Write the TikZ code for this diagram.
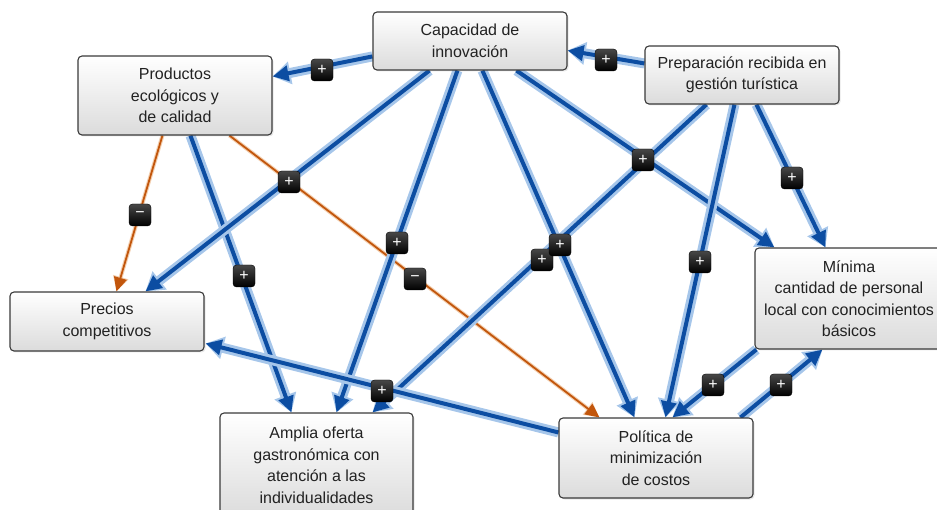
\documentclass[tikz,border=0pt]{standalone}
\usepackage{fontspec}
\setmainfont{Liberation Sans}
\usetikzlibrary{arrows.meta,calc,shadows}
\definecolor{core}{HTML}{0C4DA2}
\definecolor{halo}{HTML}{A6C6EA}
\definecolor{orng}{HTML}{C2560C}
\definecolor{ohalo}{HTML}{F3CFB0}
\definecolor{boxline}{HTML}{3A3A3A}
\definecolor{txt}{HTML}{222222}
\pgfdeclarelayer{bg}
\pgfsetlayers{bg,main}
\begin{document}
\begin{tikzpicture}[x=1pt,y=-1pt,
  concept/.style={draw=boxline, line width=1.1pt, rounded corners=4pt, top color=white, bottom color=black!14, minimum width=194pt, inner sep=0pt, align=center, text=txt, font=\fontsize{16}{21.5}\selectfont, drop shadow={opacity=0.18, shadow xshift=1.5pt, shadow yshift=-1.5pt}},
  posedge/.style={draw=core, line width=4pt, -{Triangle[length=16pt,width=15pt]}, preaction={draw=halo, line width=10pt, -{Triangle[length=18pt,width=22pt]}}},
  negedge/.style={draw=orng, line width=1.8pt, -{Triangle[length=14pt,width=13pt]}, preaction={draw=ohalo, line width=4pt, -{Triangle[length=15pt,width=15pt]}}},
  sign/.style={rounded corners=3.5pt, top color=black!72, bottom color=black, draw=black, minimum size=22pt, inner sep=0pt, text=white, font=\fontsize{16}{16}\selectfont}
]
\useasboundingbox (0,0) rectangle (937,510);

% concepts
\node[concept, minimum height=58pt] (cap) at (470,41) {Capacidad de\\innovación};
\node[concept, minimum height=79pt] (prod) at (175,95.5) {Productos\\ecológicos y\\de calidad};
\node[concept, minimum height=58pt] (prep) at (742,75) {Preparación recibida en\\gestión turística};
\node[concept, minimum height=59pt] (prec) at (107,321.5) {Precios\\competitivos};
\node[concept, minimum height=101pt, minimum width=188pt] (min) at (849,298.5) {Mínima\\cantidad de personal\\local con conocimientos\\básicos};
\node[concept, minimum height=105pt, minimum width=193pt] (amp) at (316.5,465.5) {Amplia oferta\\gastronómica con\\atención a las\\individualidades};
\node[concept, minimum height=80pt] (pol) at (656,458) {Política de\\minimización\\de costos};

% connectors
\begin{pgfonlayer}{bg}
\draw[posedge] ($(cap.north west)+(0,45)$) -- ($(prod.north east)+(0,21)$);
\draw[posedge] ($(prep.north west)+(0,18)$) -- ($(cap.north east)+(0,39)$);
\draw[negedge] ($(prod.south west)+(85,0)$) -- ($(prec.north west)+(107,0)$);
\draw[posedge] ($(prod.south west)+(113,0)$) -- ($(amp.north west)+(72,0)$);
\draw[negedge] ($(prod.south west)+(152,0)$) -- ($(pol.north west)+(41,0)$);
\draw[posedge] ($(cap.south west)+(57,0)$) -- ($(prec.north west)+(136,0)$);
\draw[posedge] ($(cap.south west)+(85,0)$) -- ($(amp.north west)+(117,0)$);
\draw[posedge] ($(cap.south west)+(110,0)$) -- ($(pol.north west)+(76,0)$);
\draw[posedge] ($(cap.south west)+(144,0)$) -- ($(min.north west)+(20,0)$);
\draw[posedge] ($(prep.south west)+(62,0)$) -- ($(amp.north west)+(153,0)$);
\draw[posedge] ($(prep.south west)+(90,0)$) -- ($(pol.north west)+(107,0)$);
\draw[posedge] ($(prep.south west)+(112,0)$) -- ($(min.north west)+(71,0)$);
\draw[posedge] ($(min.south west)+(2,0)$) -- ($(pol.north west)+(114,0)$);
\draw[posedge] ($(pol.north west)+(182,0)$) -- ($(min.south west)+(68,0)$);
\draw[posedge] ($(pol.north west)+(0,15)$) -- ($(prec.north east)+(1,52)$);
\end{pgfonlayer}

% signs
\node[sign] (s1) at (322,70) {+};
\node[sign] (s2) at (606,60) {+};
\node[sign] (s3) at (140,215) {−};
\node[sign] (s4) at (244,276) {+};
\node[sign] (s5) at (415,279) {−};
\node[sign] (s6) at (289,182) {+};
\node[sign] (s7) at (397,243) {+};
\node[sign] (s10) at (542,260) {+};
\node[sign] (s8) at (560,245) {+};
\node[sign] (s9) at (643,160) {+};
\node[sign] (s11) at (700,262) {+};
\node[sign] (s12) at (792,178) {+};
\node[sign] (s13) at (713,385) {+};
\node[sign] (s14) at (781,385) {+};
\node[sign] (s15) at (382,391) {+};
\end{tikzpicture}
\end{document}
